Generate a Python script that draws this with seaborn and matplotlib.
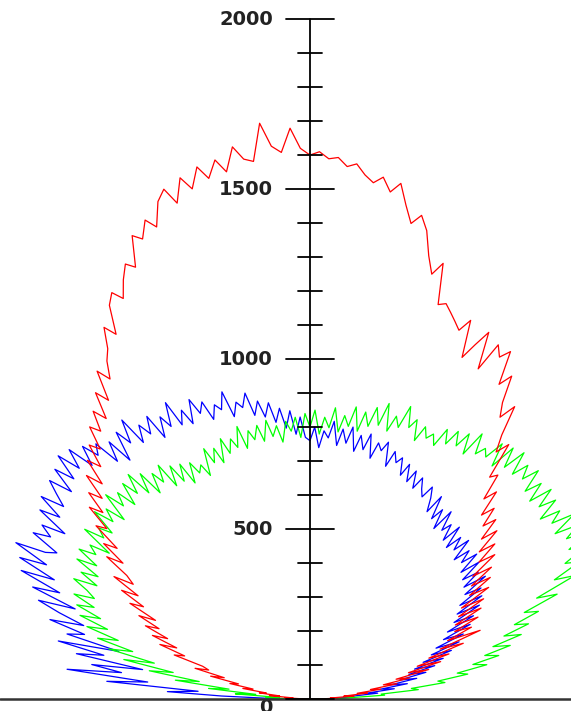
import numpy as np
import pandas as pd
import matplotlib
matplotlib.use("Agg")
import matplotlib.pyplot as plt
import seaborn as sns

# angle of each sample, degrees from the vertical axis (-90 .. 90, 1 degree apart)
THETA_DEG = list(range(-90, 91))

RED = [
    5, 30, 20, 75, 50, 120, 90, 150, 130, 200,
    170, 240, 215, 300, 260, 350, 310, 330, 420, 390,
    470, 420, 500, 455, 530, 490, 560, 510, 600, 560,
    640, 590, 680, 620, 650, 730, 680, 760, 720, 810,
    780, 860, 820, 890, 850, 930, 880, 960, 920, 990,
    960, 1030, 1000, 1060, 1020, 1100, 1060, 1150, 1110, 1160,
    1190, 1250, 1215, 1300, 1330, 1300, 1350, 1390, 1370, 1460,
    1440, 1490, 1460, 1530, 1560, 1510, 1580, 1540, 1600, 1560,
    1610, 1570, 1640, 1600, 1590, 1700, 1630, 1610, 1680, 1620,
    1600,
    1610, 1590, 1595, 1570, 1580, 1550, 1530, 1550, 1510, 1540,
    1480, 1430, 1460, 1420, 1350, 1300, 1340, 1220, 1230, 1210,
    1190, 1170, 1210, 1100, 1150, 1200, 1090, 1180, 1150, 1180,
    1080, 1120, 1040, 1000, 1050, 960, 910, 950, 840, 860,
    780, 820, 740, 780, 720, 760, 690, 740, 660, 710,
    640, 690, 600, 660, 580, 640, 560, 620, 520, 590,
    500, 570, 480, 550, 470, 520, 440, 540, 410, 480,
    370, 430, 330, 400, 300, 360, 260, 300, 220, 260,
    180, 210, 140, 170, 100, 130, 60, 80, 30, 5,
]

BLUE = [
    5, 120, 260, 420, 330, 600, 480, 720, 560, 650,
    500, 700, 620, 760, 580, 740, 690, 800, 700, 780,
    850, 740, 880, 800, 930, 830, 950, 870, 980, 890,
    860, 950, 900, 940, 870, 970, 910, 990, 920, 960,
    1000, 930, 1010, 950, 1030, 960, 1020, 940, 1000, 950,
    980, 900, 960, 880, 970, 920, 990, 900, 950, 910,
    960, 880, 940, 900, 970, 890, 930, 880, 950, 900,
    930, 870, 910, 890, 940, 860, 900, 880, 920, 850,
    890, 840, 880, 820, 860, 800, 850, 780, 830, 770,
    760,
    800, 740, 790, 770, 820, 750, 800, 760, 810, 740,
    790, 750, 800, 730, 780, 760, 790, 720, 770, 740,
    760, 710, 750, 700, 740, 690, 730, 700, 680, 720,
    690, 650, 710, 640, 680, 620, 690, 630, 660, 610,
    670, 600, 650, 610, 660, 590, 640, 600, 650, 580,
    640, 570, 620, 560, 630, 550, 600, 520, 590, 500,
    570, 480, 540, 450, 520, 430, 490, 400, 470, 380,
    440, 350, 410, 320, 380, 300, 350, 270, 320, 240,
    290, 210, 250, 170, 200, 130, 120, 80, 50, 5,
]

GREEN = [
    5, 60, 130, 90, 220, 160, 300, 240, 400, 330,
    480, 410, 560, 470, 610, 540, 650, 590, 690, 630,
    720, 660, 740, 690, 760, 700, 730, 780, 710, 770,
    720, 800, 740, 810, 760, 790, 730, 830, 770, 800,
    760, 840, 780, 820, 760, 850, 790, 830, 770, 840,
    790, 850, 770, 830, 750, 810, 770, 820, 740, 800,
    740, 790, 720, 780, 740, 760, 720, 800, 750, 790,
    740, 810, 760, 800, 770, 830, 760, 810, 780, 820,
    770, 830, 780, 810, 760, 820, 790, 830, 770, 840,
    800,
    850, 780, 830, 800, 860, 790, 840, 810, 870, 800,
    860, 820, 880, 830, 900, 820, 870, 840, 910, 850,
    880, 820, 870, 840, 860, 830, 890, 850, 900, 860,
    910, 850, 930, 870, 900, 880, 940, 870, 950, 890,
    960, 890, 940, 900, 950, 880, 930, 870, 940, 880,
    930, 860, 920, 880, 950, 870, 940, 890, 960, 880,
    930, 850, 890, 800, 860, 730, 790, 680, 720, 640,
    680, 600, 650, 560, 610, 530, 570, 490, 530, 440,
    470, 380, 400, 300, 320, 210, 220, 120, 80, 5,
]

SERIES_ORDER = ["blue", "green", "red"]
SERIES_COLORS = {"blue": "#0000ff", "green": "#00ff00", "red": "#ff0000"}
TICK_VALUES = [0, 500, 1000, 1500, 2000]

assert len(THETA_DEG) == len(RED) == len(BLUE) == len(GREEN)

sns.set_style("white")
plt.rcParams["font.family"] = ["DejaVu Sans"]

frames = []
th = np.deg2rad(np.array(THETA_DEG, dtype=float))
for name, vals in zip(["red", "blue", "green"], [RED, BLUE, GREEN]):
    r = np.array(vals, dtype=float)
    frames.append(pd.DataFrame({
        "x": r * np.sin(th),
        "y": r * np.cos(th),
        "series": name,
    }))
df = pd.concat(frames, ignore_index=True)

fig = plt.figure(figsize=(5.71, 7.11), dpi=100)
ax = fig.add_axes([0, 0, 1, 1])

sns.lineplot(data=df, x="x", y="y", hue="series", hue_order=SERIES_ORDER,
             palette=SERIES_COLORS, sort=False, estimator=None, units="series",
             linewidth=0.9, legend=False, ax=ax)

ax.set_xlim(-912, 768)
ax.set_ylim(-35, 2056)
ax.axis("off")

# polar-style axes drawn manually
ax.plot([-912, 768], [0, 0], color="#333333", lw=1.8, zorder=5)
ax.plot([0, 0], [0, 2000], color="black", lw=1.3, zorder=5)
for v in range(0, 2001, 100):
    half = 72 if v % 500 == 0 else 34
    ax.plot([-half, half], [v, v], color="black", lw=1.3, zorder=5)

for v in TICK_VALUES:
    y = v if v > 0 else -26
    ax.text(-109, y, str(v), ha="right", va="center", fontsize=14,
            fontweight="bold", color="#222222")

fig.savefig("out.png", dpi=100)
